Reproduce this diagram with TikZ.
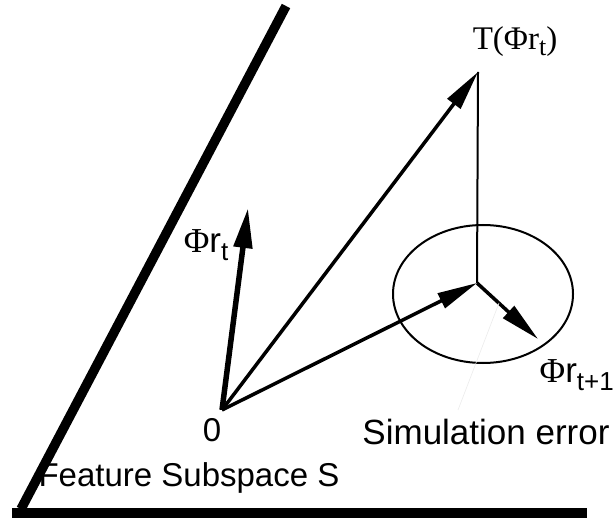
\documentclass[tikz,border=0pt]{standalone}
\usepackage{fontspec}
\setmainfont{Liberation Sans}
\newfontfamily\serifphi{Liberation Serif}
\usetikzlibrary{arrows.meta}
\newcommand{\lowsub}[1]{\raisebox{-0.4ex}{\fontsize{26}{30}\selectfont #1}}
\tikzset{
  lbl/.style={font=\fontsize{33}{40}\selectfont,inner sep=0pt},
  phil/.style={font=\fontsize{35}{42}\selectfont,inner sep=0pt},
  vec/.style={line width=3.5pt,-{Triangle[length=40pt,width=16pt]}},
  subsp/.style={line width=9.5pt},
}

\begin{document}
\begin{tikzpicture}[x=1pt,y=-1pt]
  \useasboundingbox (0,0) rectangle (615,518);
  % the feature subspace
  \coordinate (stop) at (286,6);
  \coordinate (scorner) at (21,509);
  \coordinate (sleft) at (12,513);
  \coordinate (sright) at (587,513);
  \draw[subsp] (stop) -- (scorner);
  \draw[subsp] (sleft) -- (sright);
  % vectors
  \coordinate (o) at (222,410);
  \coordinate (phir) at (248,208);
  \coordinate (tphir) at (478,72);
  \coordinate (proj) at (477,283);
  \coordinate (phinext) at (538,339);
  \draw[line width=2pt] (483,294) ellipse (90 and 69);
  \draw[line width=2pt] (tphir) -- (proj);
  \draw[vec,line width=5.5pt,-{Triangle[length=40pt,width=18pt]}] (o) -- (phir);
  \draw[vec] (o) -- (tphir);
  \draw[vec] (o) -- (proj);
  \draw[vec] (proj) -- (phinext);
  \draw[black!8,line width=0.6pt] (499,303) -- (458,410);
  % labels
  \node[phil] (lphir) at (206,245) {{\serifphi Φ}r\lowsub{t}};
  \node[lbl] (ltphir) at (515,42) {\serifphi T(Φr\lowsub{t})};
  \node[phil,anchor=east] (lphinext) at (614,375) {{\serifphi Φ}r\lowsub{t+1}};
  \node[lbl] (lo) at (212,430) {0};
  \node[lbl,font=\fontsize{35}{42}\selectfont] (lerr) at (486,432) {Simulation error};
  \node[lbl] (lsub) at (189,478) {Feature Subspace S};
\end{tikzpicture}
\end{document}
